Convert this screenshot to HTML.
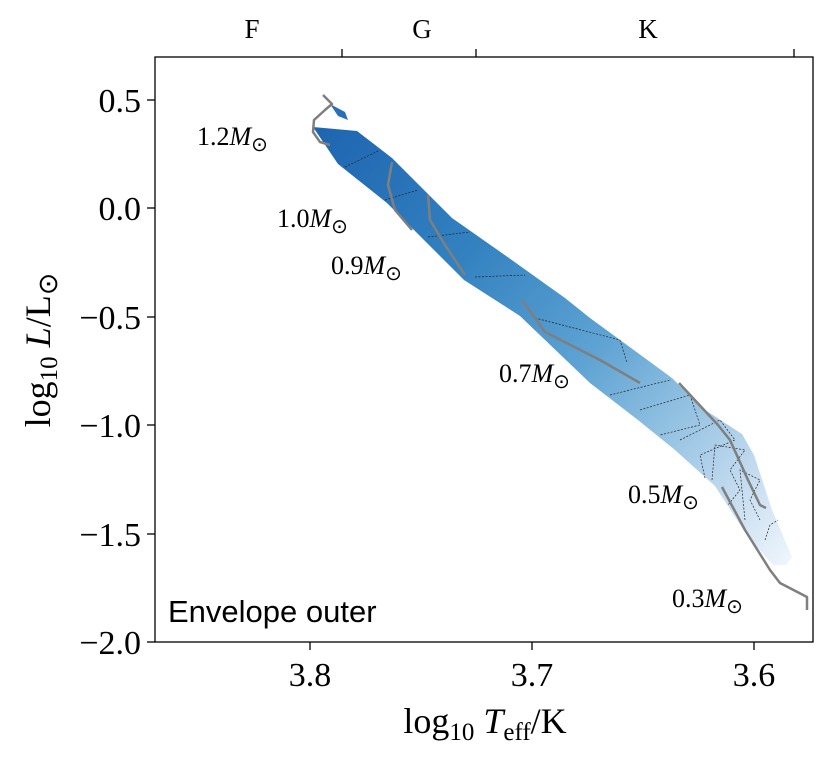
<!DOCTYPE html>
<html><head><meta charset="utf-8"><style>body{margin:0;background:#fff}</style></head><body>
<svg width="831" height="759" xmlns="http://www.w3.org/2000/svg" font-family="Liberation Serif, serif">
<defs>
<linearGradient id="g" gradientUnits="userSpaceOnUse" x1="320" y1="135" x2="790" y2="560">
<stop offset="0" stop-color="#1f66b1"/><stop offset="0.3" stop-color="#3382c0"/><stop offset="0.55" stop-color="#5ea3d3"/><stop offset="0.72" stop-color="#94c2e2"/><stop offset="0.86" stop-color="#c3dbef"/><stop offset="1" stop-color="#eef5fc"/>
</linearGradient>
</defs>
<polygon fill="url(#g)" points="313,127 357,131 392,158 452,218 509,258 565,298 590,318 672,378 702,408 742,434 754,455 772,510 792,557 786,565 773,565 748,537 715,486 675,450 638,420 590,383 520,316 464,280 387,203 338,164"/>
<polygon fill="#2a70b8" points="330,104 345,112 348,120 338,116"/>
<g fill="none" stroke="#222" stroke-width="0.7" stroke-dasharray="2,1.5">
<path d="M345,167 L378,151"/><path d="M385,200 L418,190"/><path d="M428,237 L470,232"/><path d="M475,277 L525,275"/>
<path d="M535,318 L620,340 L627,363"/><path d="M610,395 L670,380"/><path d="M640,410 L690,395 L700,425 L660,435"/>
<path d="M680,440 L720,420 L735,440 L700,455 L705,478"/><path d="M712,480 L715,445 L745,450 L730,470 L740,490 L728,505"/>
<path d="M745,520 L740,470 L760,480 L750,500 L760,520"/><path d="M765,540 L770,525 L778,520"/>
</g>
<g fill="none" stroke="#7f7f7f" stroke-width="2.5" stroke-linejoin="round">
<path d="M323,95 L332,104 L325,110 L314,120 L313,132 L320,142 L330,145"/>
<path d="M392,162 L388,185 L395,210 L412,230"/>
<path d="M428,195 L430,220 L445,245 L465,275"/>
<path d="M522,300 L545,332 L600,360 L640,383"/>
<path d="M679,383 L718,425 L730,440 L748,480 L760,505 L766,508"/>
<path d="M722,487 L745,530 L770,570 L780,583 L807,597 L807,610"/>
</g>
<rect x="155" y="57" width="658" height="585" fill="none" stroke="#000" stroke-width="1.3"/>
<g stroke="#000" stroke-width="1.3">
<line x1="310" y1="642" x2="310" y2="650"/><line x1="532" y1="642" x2="532" y2="650"/><line x1="754" y1="642" x2="754" y2="650"/>
<line x1="147" y1="100" x2="155" y2="100"/><line x1="147" y1="208" x2="155" y2="208"/><line x1="147" y1="317" x2="155" y2="317"/><line x1="147" y1="425" x2="155" y2="425"/><line x1="147" y1="534" x2="155" y2="534"/><line x1="147" y1="642" x2="155" y2="642"/>
<line x1="342" y1="49" x2="342" y2="57"/><line x1="476" y1="49" x2="476" y2="57"/><line x1="794" y1="49" x2="794" y2="57"/>
</g>
<g font-size="34" text-anchor="end">
<text x="141" y="112">0.5</text><text x="141" y="220">0.0</text><text x="141" y="329">−0.5</text><text x="141" y="437">−1.0</text><text x="141" y="546">−1.5</text><text x="141" y="654">−2.0</text>
</g>
<g font-size="34" text-anchor="middle">
<text x="310" y="686">3.8</text><text x="532" y="686">3.7</text><text x="754" y="686">3.6</text>
</g>
<g font-size="27" text-anchor="middle"><text x="252" y="38">F</text><text x="422" y="38">G</text><text x="648" y="38">K</text></g>
<text x="485" y="733" font-size="36" text-anchor="middle">log<tspan font-size="25" dy="7">10</tspan><tspan dy="-7" font-style="italic"> T</tspan><tspan font-size="25" dy="7">eff</tspan><tspan dy="-7">/K</tspan></text>
<text transform="translate(50,350) rotate(-90)" font-size="36" text-anchor="middle">log<tspan font-size="25" dy="7">10</tspan><tspan dy="-7" font-style="italic"> L</tspan><tspan>/L</tspan><tspan font-size="27" dy="7">⊙</tspan></text>
<g font-size="26">
<text x="197" y="145">1.2<tspan font-style="italic">M</tspan><tspan font-size="20" dy="6">⊙</tspan></text>
<text x="277" y="227">1.0<tspan font-style="italic">M</tspan><tspan font-size="20" dy="6">⊙</tspan></text>
<text x="331" y="274">0.9<tspan font-style="italic">M</tspan><tspan font-size="20" dy="6">⊙</tspan></text>
<text x="499" y="382">0.7<tspan font-style="italic">M</tspan><tspan font-size="20" dy="6">⊙</tspan></text>
<text x="628" y="503">0.5<tspan font-style="italic">M</tspan><tspan font-size="20" dy="6">⊙</tspan></text>
<text x="672" y="607">0.3<tspan font-style="italic">M</tspan><tspan font-size="20" dy="6">⊙</tspan></text>
</g>
<text x="168" y="622" font-size="31" font-family="Liberation Sans, sans-serif">Envelope outer</text>
</svg>
</body></html>
